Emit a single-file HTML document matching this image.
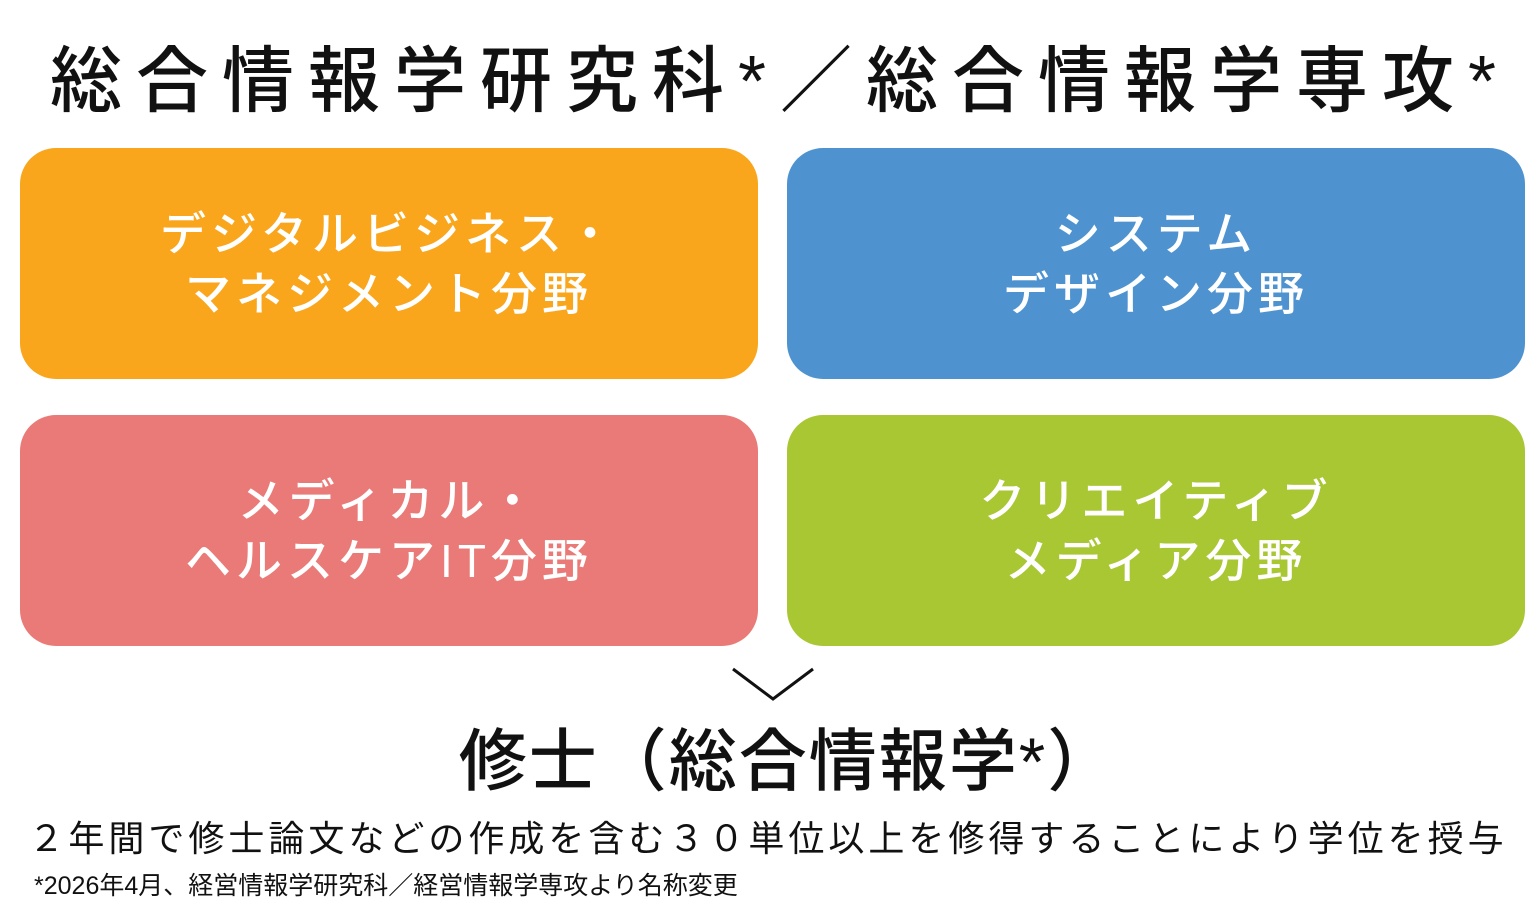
<!DOCTYPE html>
<html><head><meta charset="utf-8"><style>
html,body{margin:0;padding:0;background:#fff;}
body{width:1536px;height:910px;position:relative;overflow:hidden;font-family:"Liberation Sans","Noto Sans CJK JP",sans-serif;color:#111;}
.t{position:absolute;left:0;width:1536px;text-align:center;white-space:nowrap;}
.box{position:absolute;width:738px;height:231px;border-radius:36px;color:#fff;display:flex;align-items:center;justify-content:center;text-align:center;font-size:46px;line-height:60px;letter-spacing:5px;font-weight:500;}
</style></head><body>
<div class="t" style="top:22px;left:12px;font-size:72px;letter-spacing:14px;font-weight:500;">総合情報学研究科*／総合情報学専攻*</div>
<div class="box" style="left:20px;top:148px;background:#F9A61C;">デジタルビジネス・<br>マネジメント分野</div>
<div class="box" style="left:787px;top:148px;background:#4E93D0;">システム<br>デザイン分野</div>
<div class="box" style="left:20px;top:415px;background:#EA7A78;">メディカル・<br>ヘルスケアIT分野</div>
<div class="box" style="left:787px;top:415px;background:#A9C633;">クリエイティブ<br>メディア分野</div>
<svg style="position:absolute;left:730px;top:666px" width="86" height="38"><polyline points="3,3 43,33 83,3" fill="none" stroke="#111" stroke-width="3"/></svg>
<div class="t" style="top:706px;left:20px;font-size:68px;letter-spacing:2px;font-weight:500;">修士（総合情報学*）</div>
<div class="t" style="top:810px;font-size:36px;letter-spacing:4px;">２年間で修士論文などの作成を含む３０単位以上を修得することにより学位を授与</div>
<div style="position:absolute;left:34px;top:866px;font-size:25px;white-space:nowrap;">*2026年4月、経営情報学研究科／経営情報学専攻より名称変更</div>
</body></html>
